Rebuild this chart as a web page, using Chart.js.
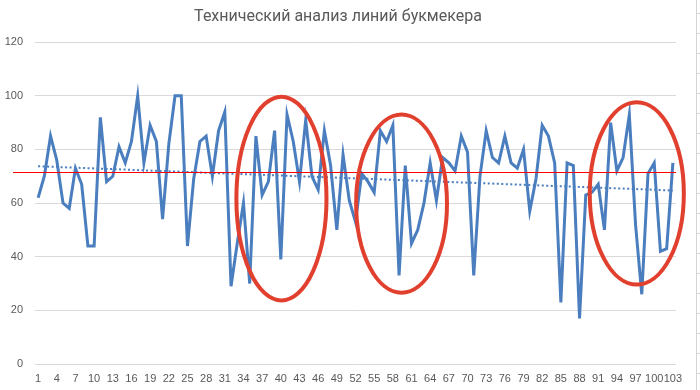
<!DOCTYPE html>
<html>
<head>
<meta charset="utf-8">
<script src="https://cdn.jsdelivr.net/npm/chart.js@4/dist/chart.umd.min.js"></script>
<style>
  html, body { margin: 0; padding: 0; background: #fff; }
  #wrap { width: 700px; height: 390px; position: relative; }
</style>
</head>
<body>
<div id="wrap"><canvas id="chart"></canvas></div>
<script>
const title = 'Технический анализ линий букмекера';

const values = [
  62, 70, 85, 76, 60, 58, 73, 67, 44, 44,
  92, 68, 70, 81, 75, 83, 100, 75, 89, 83,
  54, 82, 100, 100, 44, 69, 83, 85, 70, 87,
  94, 29, 45, 60, 30, 85, 63, 68, 87, 39,
  93, 83, 68, 91, 70, 65, 87, 74, 50, 78,
  61, 53, 71, 68, 64, 87, 83, 89, 33, 74,
  45, 50, 60, 75, 61, 77, 75, 72, 85, 79,
  33, 70, 87, 77, 75, 85, 75, 73, 80, 57,
  69, 89, 85, 75, 23, 75, 74, 17, 63, 64,
  67, 50, 90, 72, 77, 93, 52, 26, 71, 75,
  42, 43, 75
];
const labels = values.map((v, i) => String(i + 1));
const yTicks = [0, 20, 40, 60, 80, 100, 120];

// red level line drawn by hand on the chart
const redLevel = 71.7;

// circled zones: centre (category index, value) and radii (categories, value units)
const zoneCenterX = [39.1, 58.4, 96.2];
const zoneCenterY = [61.7, 59.8, 63.6];
const zoneRadiusX = [7.24, 7.3, 7.56];
const zoneRadiusY = [38, 33.2, 34];

// linear trend (least squares), like Excel's trendline
function linearTrend(ys) {
  const n = ys.length;
  let sx = 0, sy = 0, sxy = 0, sxx = 0;
  ys.forEach((y, i) => { sx += i; sy += y; sxy += i * y; sxx += i * i; });
  const b = (n * sxy - sx * sy) / (n * sxx - sx * sx);
  const a = (sy - b * sx) / n;
  return ys.map((y, i) => a + b * i);
}
const trend = linearTrend(values);

const overlayPlugin = {
  id: 'overlay',
  afterDatasetsDraw(chart) {
    const { ctx, chartArea, scales: { x, y } } = chart;
    ctx.save();
    // red level line
    const ly = Math.round(y.getPixelForValue(redLevel)) + 0.5;
    ctx.strokeStyle = '#ff0000';
    ctx.lineWidth = 1;
    ctx.beginPath();
    ctx.moveTo(chartArea.left - 22, ly);
    ctx.lineTo(chartArea.right, ly);
    ctx.stroke();
    // ellipses
    ctx.strokeStyle = '#e2402f';
    ctx.lineWidth = 4;
    zoneCenterX.forEach((cx, i) => {
      const px = x.getPixelForValue(cx);
      const py = y.getPixelForValue(zoneCenterY[i]);
      const rx = Math.abs(x.getPixelForValue(cx + zoneRadiusX[i]) - px);
      const ry = Math.abs(y.getPixelForValue(zoneCenterY[i] + zoneRadiusY[i]) - py);
      ctx.beginPath();
      ctx.ellipse(px, py, rx, ry, 0, 0, Math.PI * 2);
      ctx.stroke();
    });
    // window edge on the right
    ctx.strokeStyle = '#d4d4d4';
    ctx.lineWidth = 1;
    ctx.beginPath();
    ctx.moveTo(696.5, 0);
    ctx.lineTo(696.5, chart.height);
    for (let t = 13; t < chart.height; t += 20) {
      ctx.moveTo(697, t + 0.5);
      ctx.lineTo(700, t + 0.5);
    }
    ctx.stroke();
    ctx.restore();
  }
};

new Chart(document.getElementById('chart').getContext('2d'), {
  type: 'line',
  data: {
    labels: labels,
    datasets: [
      {
        label: 'line',
        data: values,
        borderColor: '#4a7ebf',
        borderWidth: 3,
        pointRadius: 0,
        tension: 0,
        fill: false,
        order: 1
      },
      {
        label: 'trend',
        data: trend,
        borderColor: '#4a7ebf',
        borderWidth: 2,
        borderDash: [2, 2.5],
        pointRadius: 0,
        tension: 0,
        fill: false,
        order: 2
      }
    ]
  },
  options: {
    responsive: true,
    maintainAspectRatio: false,
    animation: false,
    layout: { padding: { left: 0, right: 24, top: 0, bottom: 0 } },
    plugins: {
      legend: { display: false },
      tooltip: { enabled: false },
      title: {
        display: true,
        text: title,
        color: '#595959',
        font: { family: 'Roboto', size: 16, weight: 'normal' },
        padding: { top: 7, bottom: 16 }
      }
    },
    scales: {
      x: {
        offset: true,
        grid: { display: false, drawTicks: false },
        border: { display: false },
        ticks: {
          color: '#595959',
          font: { family: 'Liberation Sans', size: 11 },
          autoSkip: false,
          maxRotation: 0,
          padding: 8,
          callback: function (val, idx) { return idx % 3 === 0 ? labels[idx] : ''; }
        },
        afterFit: (s) => { s.height = 26; }
      },
      y: {
        min: 0,
        max: 120,
        afterBuildTicks: (s) => { s.ticks = yTicks.map(v => ({ value: v })); },
        grid: { color: '#d9d9d9', drawTicks: false },
        border: { display: false },
        ticks: {
          color: '#595959',
          font: { family: 'Liberation Sans', size: 11 },
          padding: 12
        },
        afterFit: (s) => { s.width = 35; }
      }
    }
  },
  plugins: [overlayPlugin]
});
</script>
</body>
</html>
